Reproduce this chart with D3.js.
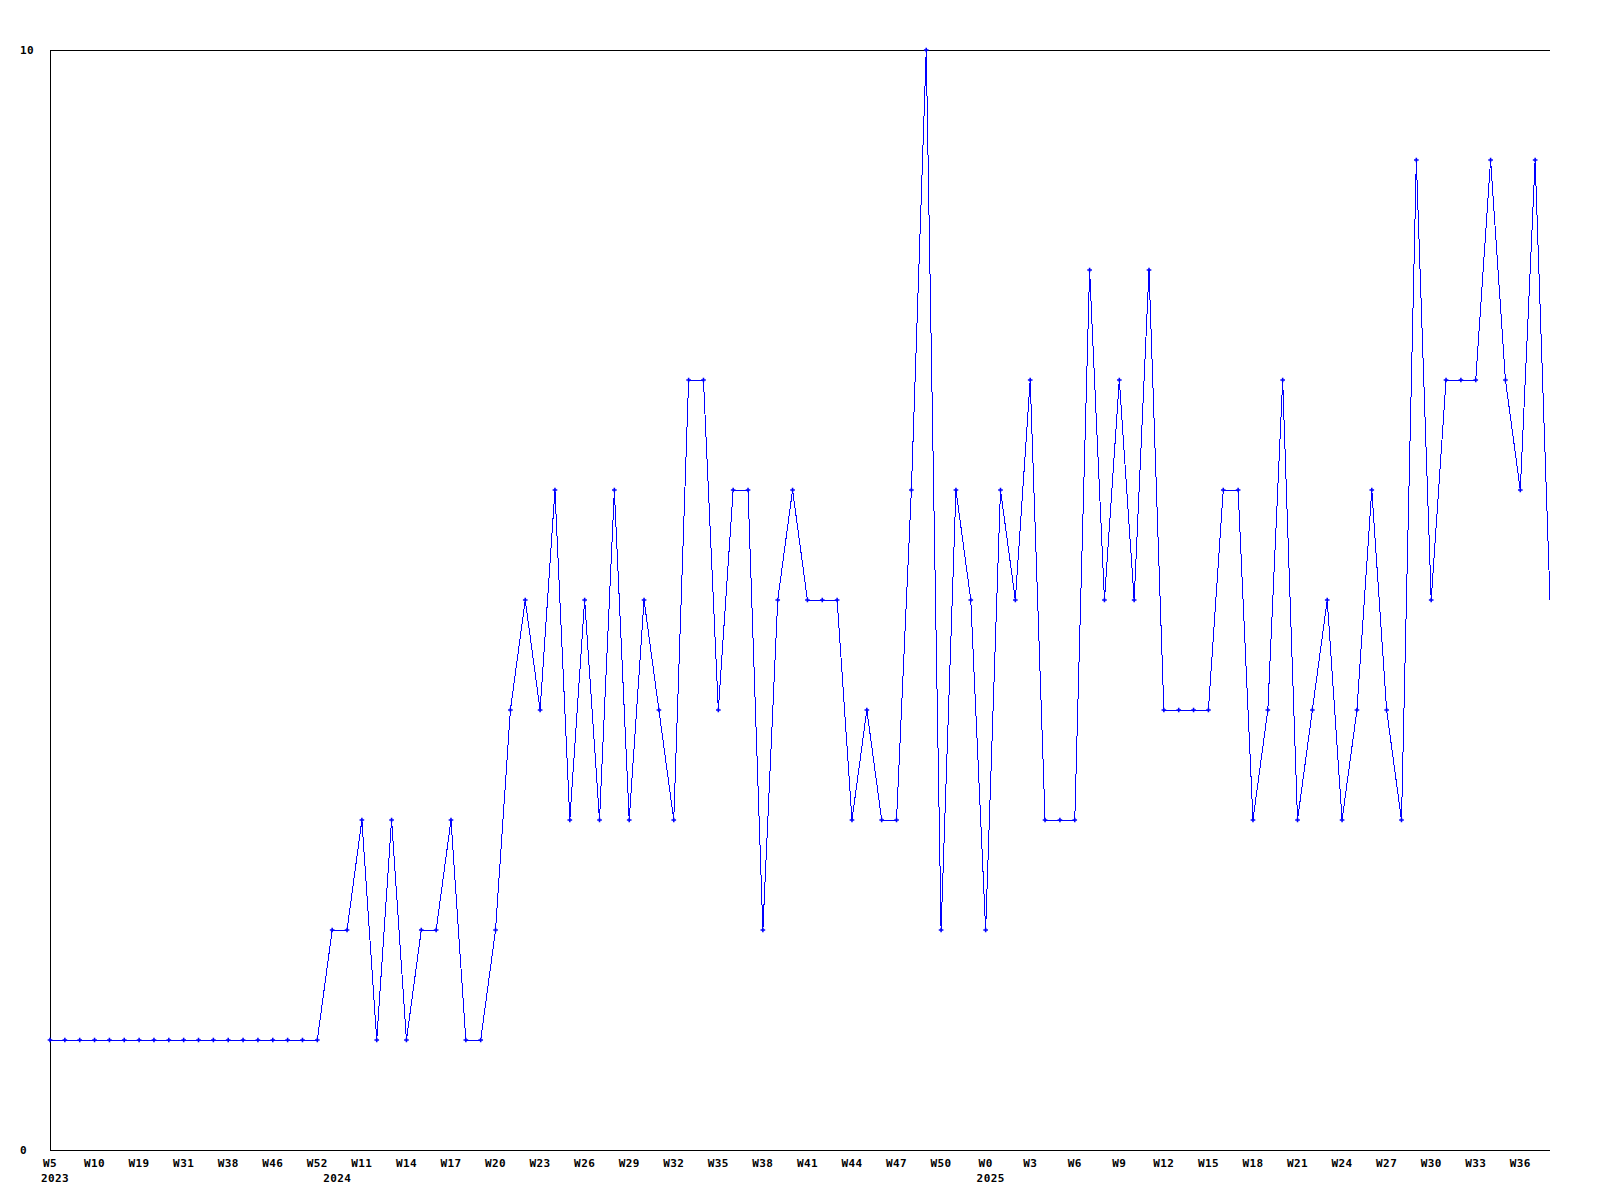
<!DOCTYPE html>
<html>
<head>
<meta charset="utf-8">
<script src="https://cdn.jsdelivr.net/npm/d3@7"></script>
<style>
  body { margin: 0; background: #fff; }
  text { font-family: "DejaVu Sans Mono", monospace; font-weight: bold; font-size: 11px; letter-spacing: 0.4px; fill: #000; }
</style>
</head>
<body>
<div id="chart"></div>
<script>
'use strict';

// Week labels, one per data point (2023 is sparse, 2024/2025 weekly)
const weeks2023 = ["W5","W6","W8","W10","W12","W15","W19","W23","W27","W31","W33","W35","W38","W41","W44","W46","W48","W50","W52"];
const weeks2024 = ["W9","W10","W11","W12","W13","W14","W15","W16","W17","W18","W19","W20","W21","W22","W23","W24","W25","W26","W27","W28","W29","W30",
  "W31","W32","W33","W34","W35","W36","W37","W38","W39","W40","W41","W42","W43","W44","W45","W46","W47","W48","W49","W50","W51","W52"];
const weeks2025 = ["W0","W1","W2","W3","W4","W5","W6","W7","W8","W9","W10","W11","W12","W13","W14","W15","W16","W17","W18","W19","W20",
  "W21","W22","W23","W24","W25","W26","W27","W28","W29","W30","W31","W32","W33","W34","W35","W36","W37","W38"];
const years = ["2023", "2024", "2025"];

// Counts per week
const counts2023 = [1,1,1,1,1,1,1,1,1,1,1,1,1,1,1,1,1,1,1];
const counts2024 = [2,2,3,1,3,1,2,2,3,1, 1,2,4,5,4,6,3,5,3,6, 3,5,4,3,7,7,4,6,6,2, 5,6,5,5,5,3,4,3,3,6, 10,2,6,5];
const counts2025 = [2,6,5,7,3,3,3,8,5,7, 5,8,4,4,4,4,6,6,3,4, 7,3,4,5,3,4,6,4,3,9, 5,7,7,7,9,7,6,9,5];

const yTicks = [0, 10];

// build flat point list
let points = [];
[weeks2023, weeks2024, weeks2025].forEach(function (wk, yi) {
  const cs = [counts2023, counts2024, counts2025][yi];
  wk.forEach(function (w, i) {
    points.push({ week: w, year: years[yi], first: i === 0, value: cs[i] });
  });
});
points.forEach((d, i) => d.idx = i);

const width = 1600, height = 1200;
const plotLeft = 50, plotRight = 1550, plotTop = 50, plotBottom = 1150;

const svg = d3.select("#chart").append("svg")
  .attr("width", width)
  .attr("height", height)
  .style("background", "#fff");

const x = d3.scaleLinear().domain([0, points.length - 1]).range([plotLeft, plotRight]);
const y = d3.scaleLinear().domain([0, 10]).range([plotBottom, plotTop]);

// frame: left, bottom and top lines
svg.append("path")
  .attr("d", `M${plotRight},${plotTop + 0.5}H${plotLeft + 0.5}V${plotBottom + 0.5}H${plotRight}`)
  .attr("fill", "none")
  .attr("stroke", "#000")
  .attr("stroke-width", 1)
  .attr("shape-rendering", "crispEdges");

// y labels
svg.selectAll("text.ylab")
  .data(yTicks)
  .enter().append("text")
  .attr("class", "ylab")
  .attr("x", 20)
  .attr("y", d => y(d) + 4)
  .text(d => d);

// data line
const line = d3.line().x(d => x(d.idx)).y(d => y(d.value));
svg.append("path")
  .datum(points)
  .attr("d", line)
  .attr("fill", "none")
  .attr("stroke", "#0000ff")
  .attr("stroke-width", 1)
  .attr("shape-rendering", "crispEdges");

// markers (the last, partial week has none)
const sym = d3.symbol().type(d3.symbolCross).size(12);
svg.selectAll("path.mark")
  .data(points.filter(d => d.idx < points.length - 1))
  .enter().append("path")
  .attr("class", "mark")
  .attr("d", sym)
  .attr("transform", d => `translate(${x(d.idx)},${y(d.value)})`)
  .attr("fill", "#0000ff");

// week labels every third point
const shown = points.filter(d => d.idx % 3 === 0);
svg.selectAll("text.wk")
  .data(shown)
  .enter().append("text")
  .attr("class", "wk")
  .attr("x", d => x(d.idx))
  .attr("y", 1167)
  .attr("text-anchor", "middle")
  .text(d => d.week);

// year labels at the first point of each year, aligned with where its week label starts
const firsts = points.filter(d => d.first);
svg.selectAll("text.yr")
  .data(firsts)
  .enter().append("text")
  .attr("class", "yr")
  .attr("x", function (d) {
    const tmp = svg.append("text").text(d.week);
    const w = tmp.node().getComputedTextLength();
    tmp.remove();
    return x(d.idx) - w / 2 - 2;
  })
  .attr("y", 1182)
  .text(d => d.year);
</script>
</body>
</html>
